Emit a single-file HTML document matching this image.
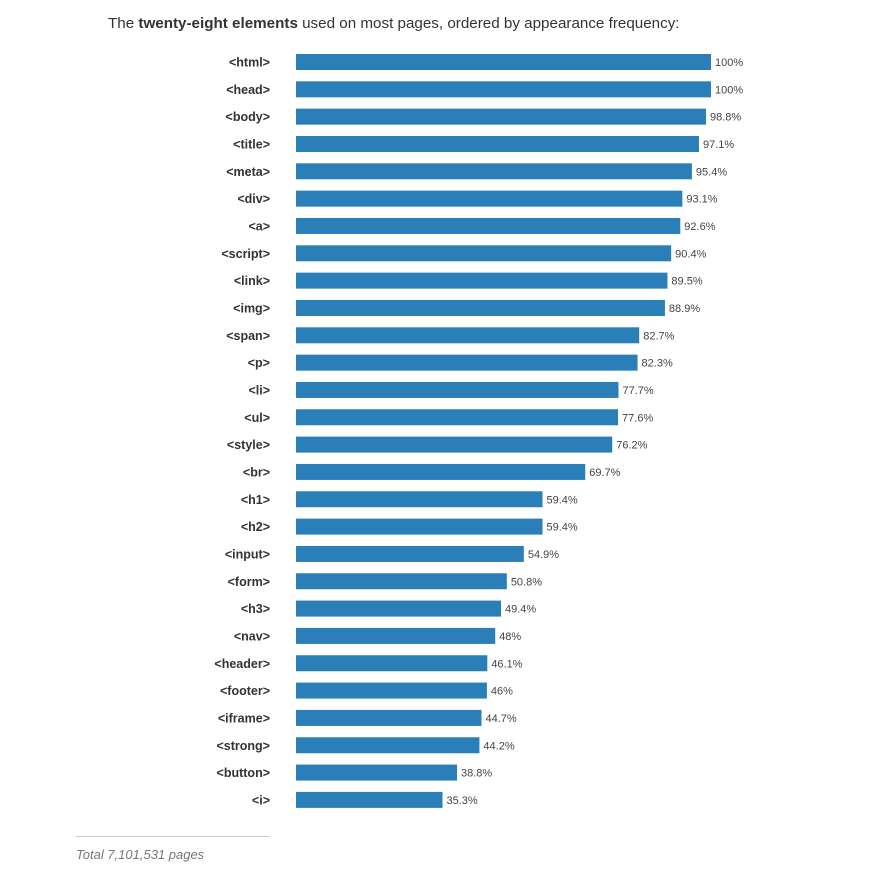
<!DOCTYPE html>
<html><head><meta charset="utf-8"><style>
body{margin:0;background:#fff;font-family:"Liberation Sans",sans-serif;}
#wrap{position:relative;width:873px;height:890px;}
#title{position:absolute;left:108px;top:15px;font-size:15.2px;color:#333;}
#footer-line{position:absolute;left:76px;top:836px;width:194px;height:1px;background:#ccc;}
#footer{position:absolute;left:76px;top:847px;font-size:13px;font-style:italic;color:#777;}
</style></head><body>
<div id="wrap">
<div id="title">The <b>twenty-eight elements</b> used on most pages, ordered by appearance frequency:</div>
<svg id="chart" width="873" height="890" style="position:absolute;left:0;top:0"></svg>
<div id="footer-line"></div>
<div id="footer">Total 7,101,531 pages</div>
</div>
<script>
const categories=["<html>","<head>","<body>","<title>","<meta>","<div>","<a>","<script>","<link>","<img>","<span>","<p>","<li>","<ul>","<style>","<br>","<h1>","<h2>","<input>","<form>","<h3>","<nav>","<header>","<footer>","<iframe>","<strong>","<button>","<i>"];
const values=[100,100,98.8,97.1,95.4,93.1,92.6,90.4,89.5,88.9,82.7,82.3,77.7,77.6,76.2,69.7,59.4,59.4,54.9,50.8,49.4,48,46.1,46,44.7,44.2,38.8,35.3];
const valueLabels=["100%","100%","98.8%","97.1%","95.4%","93.1%","92.6%","90.4%","89.5%","88.9%","82.7%","82.3%","77.7%","77.6%","76.2%","69.7%","59.4%","59.4%","54.9%","50.8%","49.4%","48%","46.1%","46%","44.7%","44.2%","38.8%","35.3%"];
const svg=document.getElementById('chart');
const NS="http://www.w3.org/2000/svg";
const x0=296,x1=711,top0=54,pitch=27.33,bh=16;
const xs=v=>x0+(x1-x0)*v/100;
const ys=i=>top0+i*pitch;
categories.forEach((c,i)=>{
  const y=ys(i);
  const t=document.createElementNS(NS,'text');
  t.setAttribute('x',270);t.setAttribute('y',y+12.5);
  t.setAttribute('text-anchor','end');t.setAttribute('font-size','12.5');
  t.setAttribute('font-weight','bold');t.setAttribute('fill','#333');
  t.setAttribute('font-family','Liberation Sans, sans-serif');
  t.textContent=c;
  
  
  svg.appendChild(t);
  const r=document.createElementNS(NS,'rect');
  r.setAttribute('x',x0);r.setAttribute('y',y);
  r.setAttribute('width',xs(values[i])-x0);r.setAttribute('height',bh);
  r.setAttribute('fill','#2a7fb8');
  
  
  svg.appendChild(r);
  const v=document.createElementNS(NS,'text');
  v.setAttribute('x',xs(values[i])+4);v.setAttribute('y',y+12);
  v.setAttribute('font-size','11');v.setAttribute('fill','#444');
  v.setAttribute('font-family','Liberation Sans, sans-serif');
  v.textContent=valueLabels[i];
  
  
  svg.appendChild(v);
});
</script>
</body></html>
